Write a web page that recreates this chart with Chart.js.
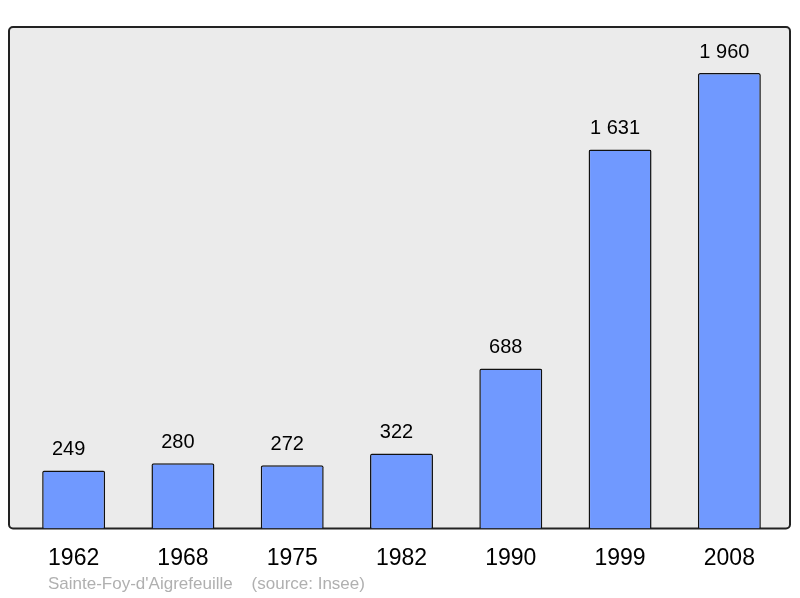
<!DOCTYPE html>
<html>
<head>
<meta charset="utf-8">
<script src="https://cdn.jsdelivr.net/npm/chart.js@4"></script>
<style>
  html, body { margin: 0; padding: 0; background: #ffffff; }
  #wrap { width: 800px; height: 598px; }
</style>
</head>
<body>
<div id="wrap"><canvas id="popChart"></canvas></div>
<script>
// data
const years = ["1962", "1968", "1975", "1982", "1990", "1999", "2008"];
const population = [249, 280, 272, 322, 688, 1631, 1960];
const sourceText = "Sainte-Foy-d'Aigrefeuille    (source: Insee)";

function fmt(n) {
    return String(n).replace(/\B(?=(\d{3})+(?!\d))/g, " ");
}

// grey framed box behind the bars
const frame = {
    id: "frame",
    beforeDraw(chart) {
        const ctx = chart.ctx;
        const a = chart.chartArea;
        ctx.save();
        ctx.beginPath();
        ctx.roundRect(9, a.top, 781, a.bottom - a.top, 4);
        ctx.fillStyle = "#ebebeb";
        ctx.fill();
        ctx.lineWidth = 2;
        ctx.strokeStyle = "#222222";
        ctx.stroke();
        ctx.restore();
    },
    afterDatasetsDraw(chart) {
        const ctx = chart.ctx;
        const meta = chart.getDatasetMeta(0);
        ctx.save();
        ctx.fillStyle = "#000000";
        ctx.font = "20px 'Liberation Sans', Arial, sans-serif";
        ctx.textAlign = "center";
        ctx.textBaseline = "middle";
        meta.data.forEach((bar, i) => {
            ctx.fillText(fmt(population[i]), bar.x - 5, bar.y - 21);
        });
        ctx.fillStyle = "#b0b0b0";
        ctx.font = "17px 'Liberation Sans', Arial, sans-serif";
        ctx.textAlign = "left";
        ctx.fillText(sourceText, 48, 584);
        ctx.restore();
    }
};

new Chart(document.getElementById("popChart"), {
    type: "bar",
    data: {
        labels: years,
        datasets: [
            {
                data: population,
                backgroundColor: "#7099ff",
                borderColor: "#111111",
                borderWidth: 1.5,
                borderRadius: 2,
                borderSkipped: "bottom",
                categoryPercentage: 1,
                barPercentage: 0.576,
            },
        ],
    },
    options: {
        responsive: true,
        maintainAspectRatio: false,
        animation: false,
        layout: {
            padding: { left: 19, right: 16, top: 27, bottom: 18 },
        },
        plugins: {
            legend: { display: false },
            tooltip: { enabled: false },
        },
        scales: {
            x: {
                grid: { display: false },
                border: { display: false },
                ticks: {
                    color: "#000000",
                    font: { size: 23, family: "'Liberation Sans', Arial, sans-serif" },
                    padding: 8,
                    maxRotation: 0,
                },
            },
            y: {
                display: false,
                min: 0,
                max: 2158,
            },
        },
    },
    plugins: [frame],
});
</script>
</body>
</html>
